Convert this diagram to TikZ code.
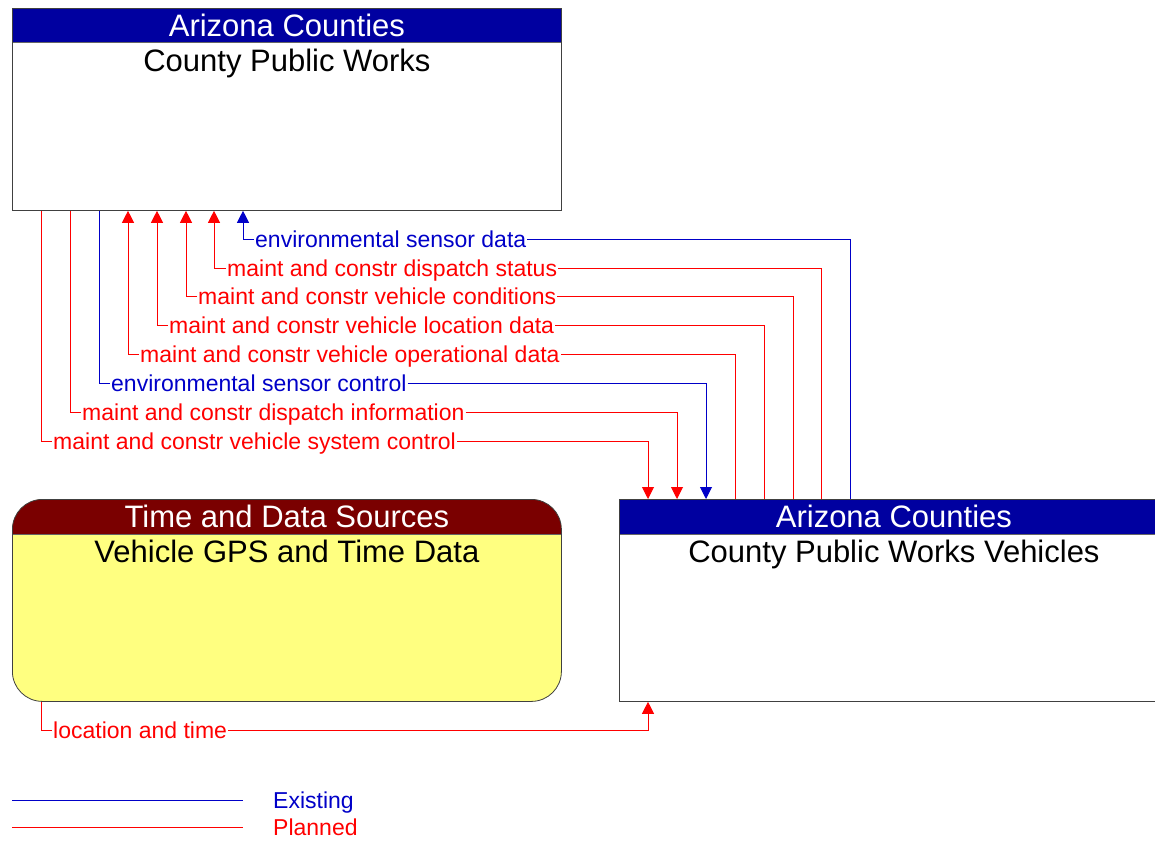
\documentclass[tikz,border=0pt]{standalone}
\usepackage{fontspec}
\setmainfont{Liberation Sans}
\usetikzlibrary{arrows.meta,positioning}

\definecolor{hdrblue}{RGB}{0,0,160}
\definecolor{hdrred}{RGB}{122,0,0}
\definecolor{srcyellow}{RGB}{255,255,128}
\definecolor{flowblue}{RGB}{0,0,200}
\definecolor{flowred}{RGB}{255,0,0}

\begin{document}
\begin{tikzpicture}[
  x=1pt,y=-1pt,
  ent/.style={draw=black!75,line width=0.8pt,minimum width=549pt,minimum height=202pt,
    anchor=north west,inner sep=0pt,
    path picture={\fill[#1,sharp corners] (path picture bounding box.north west) rectangle ([yshift=-34.5pt]path picture bounding box.north east);
      \draw[black!60,line width=0.8pt] ([yshift=-34.5pt]path picture bounding box.north west) -- ([yshift=-34.5pt]path picture bounding box.north east);}},
  hdr/.style={text=white,font=\fontsize{31}{36}\selectfont,anchor=base,inner sep=0pt},
  ttl/.style={font=\fontsize{31}{36}\selectfont,anchor=base,inner sep=0pt},
  lbl/.style={anchor=west,inner sep=1pt,text height=16pt,text depth=0pt,font=\fontsize{23}{27}\selectfont},
  existing/.style={color=flowblue,line width=0.9pt},
  planned/.style={color=flowred,line width=0.9pt},
  flowtip/.style={-{Triangle[width=12pt,length=12pt]}}
]
  \useasboundingbox (0,0) rectangle (1155,840);

  % entities
  \node[ent=hdrblue,fill=white] (cpw) at (12,8) {};
  \node[hdr] (cpwhdr) at ([yshift=-28.5pt]cpw.north) {Arizona Counties};
  \node[ttl] (cpwttl) at ([yshift=-64pt]cpw.north) {County Public Works};

  \node[ent=hdrblue,fill=white] (cpwv) at (619,499) {};
  \node[hdr] (cpwvhdr) at ([yshift=-28pt]cpwv.north) {Arizona Counties};
  \node[ttl] (cpwvttl) at ([yshift=-63pt]cpwv.north) {County Public Works Vehicles};

  \node[ent=hdrred,fill=srcyellow,rounded corners=30pt] (tds) at (12,499) {};
  \node[hdr] (tdshdr) at ([yshift=-28pt]tds.north) {Time and Data Sources};
  \node[ttl] (tdsttl) at ([yshift=-63pt]tds.north) {Vehicle GPS and Time Data};

  % flow labels
  \node[lbl,text=flowred] (vsc) at (52,441) {maint and constr vehicle system control};
  \node[lbl,text=flowred] (dinfo) at (81,412) {maint and constr dispatch information};
  \node[lbl,text=flowblue] (esc) at (110,383) {environmental sensor control};
  \node[lbl,text=flowred] (vod) at (139,354) {maint and constr vehicle operational data};
  \node[lbl,text=flowred] (vld) at (168,325) {maint and constr vehicle location data};
  \node[lbl,text=flowred] (vcond) at (197,296) {maint and constr vehicle conditions};
  \node[lbl,text=flowred] (dstat) at (226,268) {maint and constr dispatch status};
  \node[lbl,text=flowblue] (esd) at (254,239) {environmental sensor data};
  \node[lbl,text=flowred] (lat) at (52,730) {location and time};

  % flows to the vehicles
  \draw[planned] ([xshift=29pt]cpw.south west) |- (vsc.west);
  \draw[planned,flowtip] (vsc.east) -| ([xshift=29pt]cpwv.north west);
  \draw[planned] ([xshift=58pt]cpw.south west) |- (dinfo.west);
  \draw[planned,flowtip] (dinfo.east) -| ([xshift=58pt]cpwv.north west);
  \draw[existing] ([xshift=87pt]cpw.south west) |- (esc.west);
  \draw[existing,flowtip] (esc.east) -| ([xshift=87pt]cpwv.north west);

  % flows to public works
  \draw[planned] ([xshift=116pt]cpwv.north west) |- (vod.east);
  \draw[planned,flowtip] (vod.west) -| ([xshift=116pt]cpw.south west);
  \draw[planned] ([xshift=145pt]cpwv.north west) |- (vld.east);
  \draw[planned,flowtip] (vld.west) -| ([xshift=145pt]cpw.south west);
  \draw[planned] ([xshift=174pt]cpwv.north west) |- (vcond.east);
  \draw[planned,flowtip] (vcond.west) -| ([xshift=174pt]cpw.south west);
  \draw[planned] ([xshift=202pt]cpwv.north west) |- (dstat.east);
  \draw[planned,flowtip] (dstat.west) -| ([xshift=202pt]cpw.south west);
  \draw[existing] ([xshift=231pt]cpwv.north west) |- (esd.east);
  \draw[existing,flowtip] (esd.west) -| ([xshift=231pt]cpw.south west);

  % gps source
  \draw[planned] ([xshift=29pt]tds.south west) |- (lat.west);
  \draw[planned,flowtip] (lat.east) -| ([xshift=29pt]cpwv.south west);

  % legend
  \coordinate (lgexist) at (12,800);
  \coordinate (lgplan) at (12,827);
  \node[lbl,text=flowblue] (exist) at (272,800) {Existing};
  \node[lbl,text=flowred] (plan) at (272,827) {Planned};
  \draw[existing] (lgexist) -- ++(231,0);
  \draw[planned] (lgplan) -- ++(231,0);
\end{tikzpicture}
\end{document}
